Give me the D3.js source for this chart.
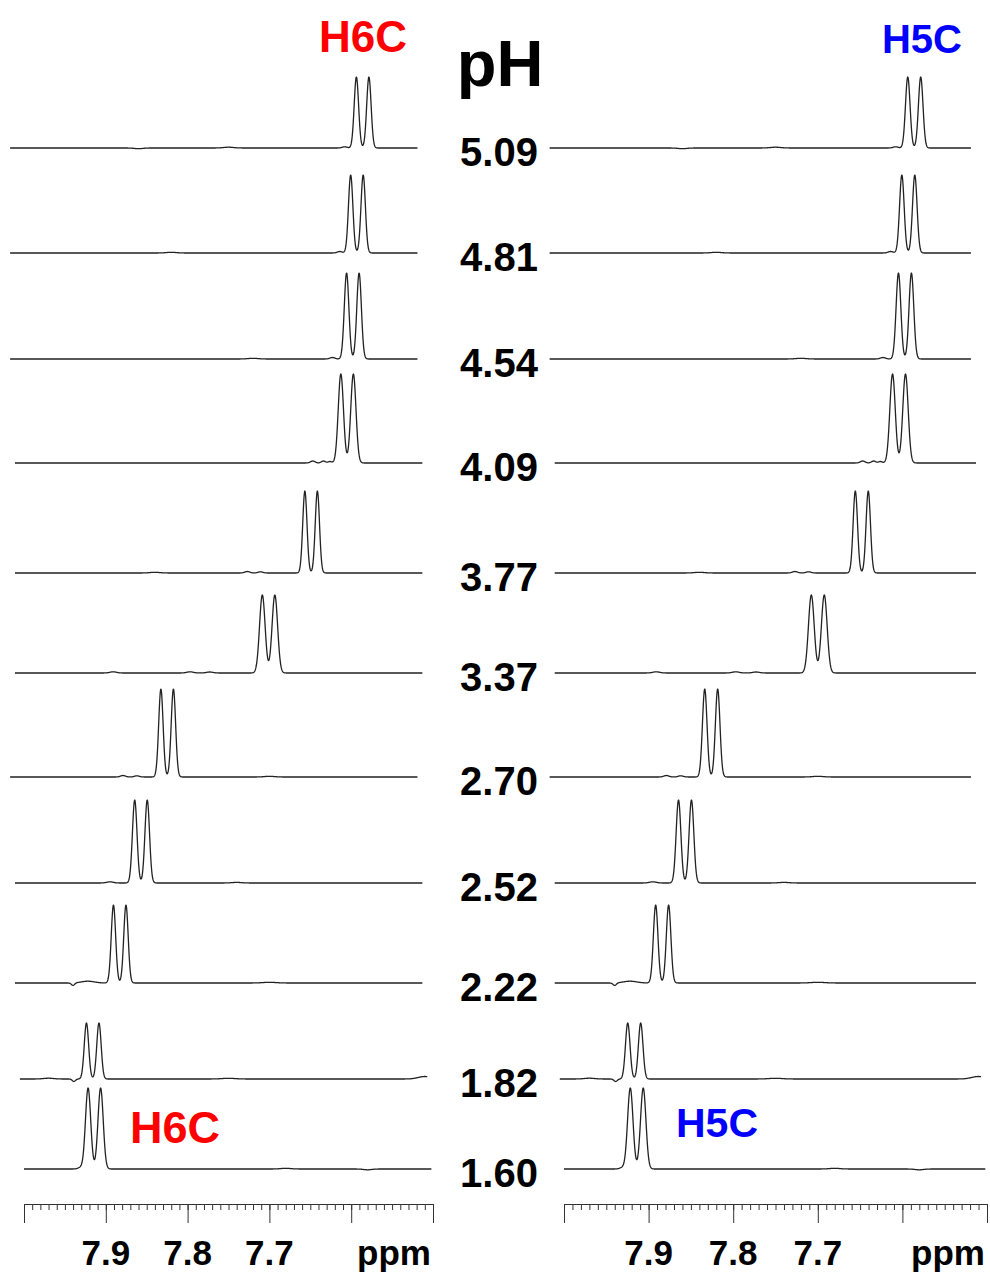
<!DOCTYPE html>
<html><head><meta charset="utf-8">
<script src="https://cdn.jsdelivr.net/npm/d3@7"></script>
<style>
body{margin:0;background:#fff}
svg{display:block}
text{font-family:"Liberation Sans",Arial,Helvetica,sans-serif;font-weight:bold}
</style>
</head><body>
<svg id="chart" width="990" height="1276"></svg>
<script>
// ---------- data ----------
const pHValues   = ["5.09","4.81","4.54","4.09","3.77","3.37","2.70","2.52","2.22","1.82","1.60"];
// doublet centres (ppm)
const shiftH6C   = [7.586,7.593,7.598,7.605,7.649,7.701,7.825,7.857,7.883,7.916,7.914];
const shiftH5C   = [7.586,7.593,7.597,7.604,7.648,7.700,7.826,7.857,7.884,7.917,7.914];
// peak intensity (a.u.) of each doublet line
const peakHeight = [71,78,86,89,82,78,88,83,78,56,81];
// vertical stacking offset of each spectrum (a.u.)
const stackOffset = [1021,916,810,706,596,496,392,286,186,90,0];
// Gaussian line width (sigma, ppm)
const lineSigma  = [0.0027,0.0027,0.0028,0.0032,0.0026,0.0034,0.0027,0.0028,0.0027,0.0027,0.0032];
// left edge (ppm) of each recorded spectral window
const windowStart = [8.017,8.017,8.017,8.011,8.011,8.011,8.017,8.011,8.011,8.005,8.0];
const windowWidth = 0.498;
const couplingPpm = 0.0153;
// small baseline features: [spectrum index, ppm, intensity, sigma ppm]
const minorFeatures = [
  [0,7.608,1.2,0.003],[0,7.75,0.8,0.006],[0,7.86,-0.7,0.005],
  [1,7.614,1.5,0.003],[1,7.82,0.7,0.006],
  [2,7.623,1.5,0.003],[2,7.72,0.7,0.006],
  [3,7.647,2,0.0028],[3,7.634,2,0.0025],[3,7.626,1.5,0.0022],
  [4,7.727,1.5,0.003],[4,7.711,1.2,0.003],[4,7.84,0.7,0.006],
  [5,7.891,1.2,0.004],[5,7.797,1.2,0.004],[5,7.773,1,0.004],
  [6,7.879,1.5,0.003],[6,7.862,1.2,0.003],[6,7.70,0.7,0.006],
  [7,7.895,1.2,0.004],[7,7.74,0.6,0.006],
  [8,7.940,-2.5,0.002],[8,7.922,1.8,0.008],[8,7.70,0.7,0.008],
  [9,7.939,-2.5,0.002],[9,7.97,0.8,0.006],[9,7.51,2.5,0.008],[9,7.75,0.7,0.008],
  [10,7.931,1.5,0.003],[10,7.68,0.7,0.006],[10,7.58,-0.8,0.005]
];
const axisMajor = [8.0,7.9,7.8,7.7,7.6,7.5];
const axisTickValues = [7.9,7.8,7.7];
const axisTickLabels = ["7.9","7.8","7.7"];
const axisUnit = "ppm";
const titleLabel = "pH";
const panelLabels = ["H6C","H5C"];

// ---------- drawing ----------
const svg = d3.select("#chart");
const y = d3.scaleLinear().domain([0, 1100]).range([1169, 69]);

const panels = [
  {name: panelLabels[0], shifts: shiftH6C, x: d3.scaleLinear().domain([8.0,7.5]).range([24,433]), color:"#ff0000"},
  {name: panelLabels[1], shifts: shiftH5C, x: d3.scaleLinear().domain([8.0,7.5]).range([564,987]), color:"#0000ff"}
];

function spectrum(i, shift){
  const start = windowStart[i], end = start - windowWidth;
  const n = 1400, pts = [];
  const s = lineSigma[i];
  const lines = [shift + couplingPpm/2, shift - couplingPpm/2];
  const feats = minorFeatures.filter(f => f[0] === i);
  for (let k = 0; k <= n; k++){
    const p = start - (start - end) * k / n;
    let v = 0;
    lines.forEach(c => { v += peakHeight[i] * Math.exp(-((p-c)*(p-c))/(2*s*s)); });
    feats.forEach(f => { v += f[2] * Math.exp(-((p-f[1])*(p-f[1]))/(2*f[3]*f[3])); });
    pts.push([p, v + stackOffset[i]]);
  }
  return pts;
}

panels.forEach(P => {
  const g = svg.append("g");
  const line = d3.line().x(d => P.x(d[0])).y(d => y(d[1]));
  pHValues.forEach((ph, i) => {
    g.append("path")
      .attr("d", line(spectrum(i, P.shifts[i])))
      .attr("fill","none").attr("stroke","#222").attr("stroke-width",1.3)
      .attr("stroke-linejoin","round");
  });

  // axis
  const axisY = 1204;
  const minor = d3.range(0, 51).map(k => +(8.0 - k*0.01).toFixed(2));
  const ax1 = g.append("g").attr("transform",`translate(0,${axisY})`)
    .call(d3.axisBottom(P.x).tickValues(minor).tickSize(6).tickSizeOuter(0).tickFormat(""));
  const ax2 = g.append("g").attr("transform",`translate(0,${axisY})`)
    .call(d3.axisBottom(P.x).tickValues(axisMajor).tickSize(19).tickSizeOuter(0).tickFormat(""));
  [ax1,ax2].forEach(a => { a.selectAll("path,line").attr("stroke","#333").attr("stroke-width",1); });

  g.selectAll("text.tick-lab").data(axisTickValues).enter().append("text")
    .attr("class","tick-lab")
    .attr("x", d => P.x(d)).attr("y", 1265)
    .attr("text-anchor","middle").attr("font-size",35).attr("fill","#000")
    .text((d,k) => axisTickLabels[k]);
  g.append("text").attr("x", P.x(7.5) - 2).attr("y", 1265)
    .attr("text-anchor","end").attr("font-size",35).attr("fill","#000").text(axisUnit);
});

// panel labels
svg.append("text").attr("x",363).attr("y",52).attr("text-anchor","middle")
  .attr("font-size",44).attr("fill",panels[0].color).text(panelLabels[0]);
svg.append("text").attr("x",922).attr("y",53).attr("text-anchor","middle")
  .attr("font-size",40).attr("fill",panels[1].color).text(panelLabels[1]);
svg.append("text").attr("x",175).attr("y",1143).attr("text-anchor","middle")
  .attr("font-size",45).attr("fill",panels[0].color).text(panelLabels[0]);
svg.append("text").attr("x",717).attr("y",1137).attr("text-anchor","middle")
  .attr("font-size",41).attr("fill",panels[1].color).text(panelLabels[1]);

// pH title and values
svg.append("text").attr("x",500).attr("y",86).attr("text-anchor","middle")
  .attr("font-size",65).attr("fill","#000").text(titleLabel);
svg.selectAll("text.ph").data(pHValues).enter().append("text")
  .attr("class","ph")
  .attr("x",499).attr("y",(d,i) => y(stackOffset[i]) + 18)
  .attr("text-anchor","middle").attr("font-size",40).attr("fill","#000")
  .text(d => d);
</script>
</body></html>
